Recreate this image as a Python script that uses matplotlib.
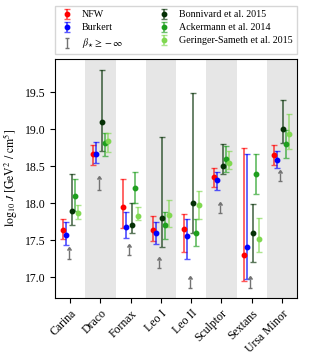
import matplotlib
matplotlib.use("Agg")
import matplotlib.pyplot as plt
import matplotlib.colors as mcolors
import numpy as np

plt.rcParams['font.family'] = 'Liberation Serif'
plt.rcParams['mathtext.fontset'] = 'stix'

galaxies = ["Carina", "Draco", "Fornax", "Leo I", "Leo II", "Sculptor", "Sextans", "Ursa Minor"]

# central value, upper end, lower end of each error bar
nfw = [17.63, 18.67, 17.95, 17.63, 17.65, 18.35, 17.30, 18.65]
nfw_hi = [17.79, 18.79, 18.32, 17.83, 17.85, 18.48, 18.74, 18.78]
nfw_lo = [17.52, 18.52, 17.66, 17.49, 17.34, 18.22, 16.95, 18.52]

burkert = [17.57, 18.67, 17.68, 17.59, 17.55, 18.31, 17.41, 18.58]
burkert_hi = [17.75, 18.82, 17.88, 17.74, 17.79, 18.42, 18.66, 18.71]
burkert_lo = [17.44, 18.54, 17.53, 17.45, 17.25, 18.18, 16.97, 18.47]

# lower limits (beta_* >= -inf): bottom and top of the arrow
beta_lo = [17.25, 18.18, 17.30, 17.12, 16.85, 17.87, 16.85, 18.30]
beta_hi = [17.37, 18.32, 17.41, 17.23, 16.97, 17.98, 16.97, 18.41]

bonnivard = [17.90, 19.10, 17.71, 17.80, 18.00, 18.50, 17.60, 19.00]
bonnivard_hi = [18.40, 19.80, 18.00, 18.90, 19.49, 18.80, 17.99, 19.40]
bonnivard_lo = [17.70, 18.70, 17.60, 17.41, 17.60, 18.40, 17.20, 18.81]

ackermann = [18.10, 18.81, 18.20, 17.70, 17.60, 18.60, 18.40, 18.80]
ackermann_hi = [18.33, 18.95, 18.42, 17.88, 17.78, 18.77, 18.66, 18.99]
ackermann_lo = [17.90, 18.64, 18.00, 17.52, 17.42, 18.42, 18.13, 18.61]

geringer = [17.87, 18.84, 17.83, 17.84, 17.97, 18.54, 17.52, 18.93]
geringer_hi = [17.97, 18.95, 17.95, 18.04, 18.17, 18.71, 17.80, 19.20]
geringer_lo = [17.78, 18.69, 17.77, 17.68, 17.79, 18.46, 17.34, 18.73]

x = np.arange(len(galaxies))

fig = plt.figure(figsize=(3.13, 3.61), dpi=100)
ax = fig.add_axes([0.176, 0.175, 0.773, 0.662])

for i in range(len(galaxies)):
    if i % 2 == 1:
        ax.axvspan(i - 0.5, i + 0.5, color='0.9', zorder=0, lw=0)


def draw(vals, hi, lo, off, color, label):
    vals = np.array(vals)
    err = [vals - np.array(lo), np.array(hi) - vals]
    ecol = mcolors.to_rgba(color, 0.65)
    ax.errorbar(x + off, vals, yerr=err, fmt='o', ms=3.2, color=color,
                ecolor=ecol, elinewidth=1.3, capsize=2.5, capthick=1,
                label=label, zorder=3)


draw(nfw, nfw_hi, nfw_lo, -0.25, '#ff0000', 'NFW')
draw(burkert, burkert_hi, burkert_lo, -0.15, '#0000ff', 'Burkert')
blo = np.array(beta_lo)
ax.errorbar(x - 0.05, blo, yerr=[np.zeros(len(blo)), np.array(beta_hi) - blo],
            lolims=True, fmt='none', color='0.45', ecolor='0.45', elinewidth=1,
            capsize=1.6, label=r'$\beta_{\star} \geq -\infty$', zorder=3)
draw(bonnivard, bonnivard_hi, bonnivard_lo, 0.05, '#053005', 'Bonnivard et al. 2015')
draw(ackermann, ackermann_hi, ackermann_lo, 0.15, '#1f9f1f', 'Ackermann et al. 2014')
draw(geringer, geringer_hi, geringer_lo, 0.25, '#7fd850', 'Geringer-Sameth et al. 2015')

ax.set_xlim(-0.5, 7.5)
ax.set_ylim(16.72, 19.95)
ax.set_yticks([17.0, 17.5, 18.0, 18.5, 19.0, 19.5])
ax.set_xticks(x)
ax.set_xticklabels(galaxies, rotation=45, ha='right', rotation_mode='anchor')
ax.tick_params(labelsize=8.5)
ax.set_ylabel(r'$\log_{10}\, J\;[\mathrm{GeV}^2\ /\ \mathrm{cm}^5]$', fontsize=8.5)

ax.legend(ncol=2, fontsize=7.2, loc='lower left',
          bbox_to_anchor=(0, 1.02, 1, 0.2), mode='expand',
          borderaxespad=0, handlelength=1.5, labelspacing=0.4,
          fancybox=False, edgecolor='0.8')

plt.savefig('out.png', dpi=100)
